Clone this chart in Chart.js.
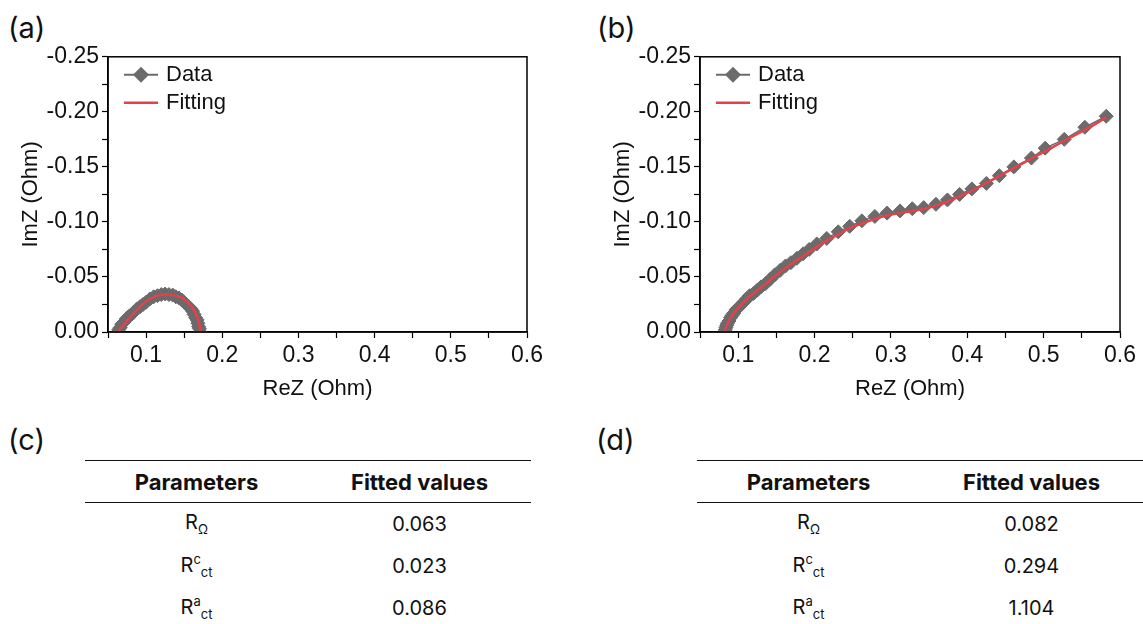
<!DOCTYPE html>
<html>
<head>
<meta charset="utf-8">
<script src="https://cdn.jsdelivr.net/npm/chart.js@4.4.1/dist/chart.umd.min.js"></script>
<style>
  body { margin: 0; width: 1143px; height: 624px; background: #fff; position: relative; overflow: hidden; }
  .panel { position: absolute; font-family: Inter, sans-serif; font-size: 29px; color: #111; line-height: 1; }
  canvas { position: absolute; }
  table { position: absolute; border-collapse: collapse; width: 446px; font-family: Inter, sans-serif; font-size: 20px; color: #111; }
  th, td { width: 50%; text-align: center; padding: 0; }
  th { font-weight: 700; font-size: 22px; }
  thead tr { height: 42px; border-top: 1.5px solid #111; border-bottom: 1.5px solid #111; }
  tbody tr { height: 42px; }
  sub, sup { font-size: 13px; }
  sub { vertical-align: -5px; }
  sup { vertical-align: 8px; }
</style>
</head>
<body>
<div class="panel" style="left:8px;top:13px">(a)</div>
<div class="panel" style="left:597px;top:13px">(b)</div>
<div class="panel" style="left:8px;top:425px">(c)</div>
<div class="panel" style="left:596px;top:425px">(d)</div>

<canvas id="chartA" width="560" height="370" style="left:0;top:40px"></canvas>
<canvas id="chartB" width="551" height="370" style="left:592px;top:40px"></canvas>

<table id="tableC" style="left:85px;top:460px"></table>
<table id="tableD" style="left:697px;top:460px"></table>

<script>
// panel (a) - measured spectrum
const reA = [0.063, 0.064, 0.066, 0.068, 0.071, 0.074, 0.077, 0.081, 0.084, 0.088, 0.092, 0.096, 0.100, 0.105, 0.110, 0.115, 0.120, 0.125,
  0.130, 0.135, 0.139, 0.143, 0.147, 0.150, 0.153, 0.156, 0.159, 0.161, 0.163, 0.165, 0.167, 0.168, 0.169, 0.170, 0.171];
const imA = [0, -0.002, -0.004, -0.007, -0.009, -0.012, -0.014, -0.016, -0.018, -0.021, -0.023, -0.025, -0.027, -0.030, -0.032, -0.033, -0.034, -0.0345,
  -0.034, -0.0335, -0.032, -0.031, -0.029, -0.027, -0.025, -0.023, -0.021, -0.019, -0.016, -0.013, -0.011, -0.008, -0.005, -0.003, 0];
// panel (a) - fitted curve
const reFitA = [0.063, 0.066, 0.070, 0.075, 0.081, 0.088, 0.0965, 0.105, 0.115, 0.125, 0.135, 0.143, 0.149, 0.155, 0.160, 0.164, 0.167, 0.169, 0.1705, 0.171];
const imFitA = [0, -0.003, -0.006, -0.010, -0.015, -0.020, -0.026, -0.030, -0.033, -0.0343, -0.0335, -0.032, -0.0303, -0.027, -0.023, -0.0185, -0.014, -0.009, -0.0045, 0];

// panel (b) - measured spectrum
const reB = [0.083, 0.084, 0.085, 0.086, 0.088, 0.090, 0.092, 0.094, 0.097, 0.100, 0.103, 0.107, 0.111, 0.115, 0.120, 0.125, 0.130, 0.136,
  0.142, 0.148, 0.155, 0.162, 0.169, 0.177, 0.185, 0.193, 0.203, 0.216, 0.231, 0.246, 0.262, 0.279, 0.295, 0.312, 0.328, 0.343,
  0.359, 0.374, 0.390, 0.406, 0.425, 0.442, 0.461, 0.484, 0.502, 0.527, 0.554, 0.582];
const imB = [-0.002, -0.004, -0.006, -0.008, -0.010, -0.013, -0.015, -0.017, -0.020, -0.022, -0.024, -0.027, -0.030, -0.033, -0.035, -0.038, -0.041, -0.044,
  -0.048, -0.052, -0.056, -0.060, -0.063, -0.067, -0.071, -0.075, -0.080, -0.085, -0.091, -0.096, -0.101, -0.105, -0.108, -0.110, -0.112, -0.113,
  -0.116, -0.120, -0.125, -0.130, -0.135, -0.142, -0.150, -0.158, -0.167, -0.175, -0.186, -0.196];
// panel (b) - fitted curve
const reFitB = [0.082, 0.084, 0.087, 0.091, 0.096, 0.103, 0.111, 0.120, 0.131, 0.143, 0.156, 0.170, 0.185, 0.200, 0.216, 0.232, 0.248, 0.264, 0.280,
  0.296, 0.312, 0.328, 0.344, 0.360, 0.376, 0.392, 0.408, 0.424, 0.440, 0.456, 0.472, 0.488, 0.504, 0.520, 0.536, 0.552, 0.568, 0.582];
const imFitB = [0, -0.004, -0.009, -0.014, -0.019, -0.024, -0.030, -0.035, -0.041, -0.048, -0.055, -0.062, -0.069, -0.076, -0.083, -0.089, -0.095, -0.099, -0.103,
  -0.106, -0.108, -0.110, -0.112, -0.115, -0.119, -0.124, -0.129, -0.135, -0.141, -0.147, -0.153, -0.159, -0.165, -0.171, -0.177, -0.183, -0.189, -0.195];

// tables (c) and (d)
const paramLabels = ['R<sub>&Omega;</sub>', 'R<sup>c</sup><sub>ct</sub>', 'R<sup>a</sup><sub>ct</sub>'];
const fittedC = ['0.063', '0.023', '0.086'];
const fittedD = ['0.082', '0.294', '1.104'];

const GRAY = '#6b6b6b';
const RED = '#e5414a';
const TICK_FONT = { family: '"Liberation Sans", Arial, sans-serif', size: 23 };

function fillTable(id, values) {
  let html = '<thead><tr><th>Parameters</th><th>Fitted values</th></tr></thead><tbody>';
  paramLabels.forEach((p, i) => {
    html += '<tr><td>' + p + '</td><td>' + values[i] + '</td></tr>';
  });
  document.getElementById(id).innerHTML = html + '</tbody>';
}
fillTable('tableC', fittedC);
fillTable('tableD', fittedD);

// box around the plot area
const frame = {
  id: 'frame',
  afterDraw(chart) {
    const { ctx, chartArea: a } = chart;
    ctx.save();
    ctx.strokeStyle = '#000';
    ctx.lineWidth = 1.5;
    ctx.strokeRect(a.left, a.top, a.right - a.left, a.bottom - a.top);
    ctx.restore();
  }
};

// legend drawn inside the top-left corner
const insideLegend = {
  id: 'insideLegend',
  afterDatasetsDraw(chart) {
    const { ctx, chartArea: a } = chart;
    const x0 = a.left + 16, x1 = a.left + 50, xm = (x0 + x1) / 2;
    const y0 = a.top + 18, y1 = a.top + 46;
    ctx.save();
    ctx.lineWidth = 2;
    ctx.strokeStyle = GRAY;
    ctx.beginPath(); ctx.moveTo(x0, y0); ctx.lineTo(x1, y0); ctx.stroke();
    ctx.fillStyle = GRAY;
    ctx.beginPath();
    ctx.moveTo(xm - 8, y0); ctx.lineTo(xm, y0 - 8); ctx.lineTo(xm + 8, y0); ctx.lineTo(xm, y0 + 8);
    ctx.closePath(); ctx.fill();
    ctx.strokeStyle = RED;
    ctx.lineWidth = 2.5;
    ctx.beginPath(); ctx.moveTo(x0, y1); ctx.lineTo(x1, y1); ctx.stroke();
    ctx.fillStyle = '#111';
    ctx.font = '22px "Liberation Sans", Arial, sans-serif';
    ctx.textBaseline = 'middle';
    ctx.fillText('Data', a.left + 58, y0);
    ctx.fillText('Fitting', a.left + 58, y1);
    ctx.restore();
  }
};

function toPoints(xs, ys) {
  return xs.map((x, i) => ({ x: x, y: ys[i] }));
}

function makeChart(id, re, im, reFit, imFit, padRight) {
  new Chart(document.getElementById(id), {
    type: 'scatter',
    data: {
      datasets: [
        {
          label: 'Data', data: toPoints(re, im), order: 2,
          showLine: true, borderColor: GRAY, borderWidth: 1.5,
          pointStyle: 'rectRot', pointRadius: 7, pointBackgroundColor: GRAY, pointBorderColor: GRAY, pointBorderWidth: 1
        },
        {
          label: 'Fitting', data: toPoints(reFit, imFit), order: 1,
          showLine: true, borderColor: RED, borderWidth: 2.5, tension: 0.4, pointRadius: 0
        }
      ]
    },
    options: {
      responsive: false,
      animation: false,
      devicePixelRatio: 1,
      layout: { padding: { top: 15, right: padRight, left: 0, bottom: 0 } },
      plugins: { legend: { display: false }, tooltip: { enabled: false } },
      scales: {
        x: {
          type: 'linear', min: 0.05, max: 0.6,
          afterFit(s) { s.height = 78; },
          border: { display: true, color: '#000', width: 1.5 },
          grid: { drawOnChartArea: false, tickLength: 6, tickColor: '#000', tickWidth: 1.2 },
          ticks: {
            stepSize: 0.05, autoSkip: false, maxRotation: 0, padding: 4, color: '#111', font: TICK_FONT,
            callback: v => (Math.round(v * 100) % 10 === 0 ? (Math.round(v * 10) / 10).toFixed(1) : '')
          },
          title: { display: true, text: 'ReZ (Ohm)', color: '#111', font: { family: TICK_FONT.family, size: 22 }, padding: { top: 0, bottom: 8 } }
        },
        y: {
          type: 'linear', reverse: true, min: -0.25, max: 0,
          afterFit(s) { s.width = 108; },
          border: { display: true, color: '#000', width: 1.5 },
          grid: { drawOnChartArea: false, tickLength: 6, tickColor: '#000', tickWidth: 1.2 },
          ticks: {
            stepSize: 0.025, autoSkip: false, padding: 3, color: '#111', font: TICK_FONT,
            callback: v => (Math.round(v * 1000) % 50 === 0 ? (Math.round(v * 100) / 100).toFixed(2) : '')
          },
          title: { display: true, text: 'ImZ (Ohm)', color: '#111', font: { family: TICK_FONT.family, size: 22 }, padding: { top: 18, bottom: 0 } }
        }
      }
    },
    plugins: [frame, insideLegend]
  });
}

makeChart('chartA', reA, imA, reFitA, imFitA, 33);
makeChart('chartB', reB, imB, reFitB, imFitB, 23);
</script>
</body>
</html>
